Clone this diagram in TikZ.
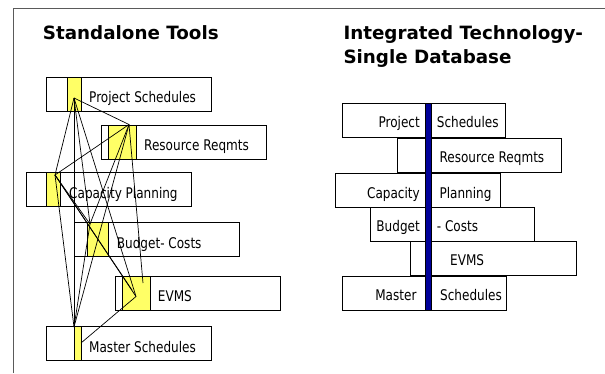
\documentclass[tikz,border=0pt]{standalone}
\usepackage{fontspec}
\newfontfamily\bodyf[FakeStretch=0.82]{DejaVu Sans}
\newfontfamily\titlef{DejaVu Sans}
\definecolor{yellowfill}{RGB}{255,255,102}
\definecolor{navybar}{RGB}{0,0,153}
\definecolor{framec}{RGB}{90,90,90}
\begin{document}
\begin{tikzpicture}[x=1pt,y=-1pt,
  box/.style={draw=black, line width=1pt, fill=white, anchor=north west, inner sep=0pt, outer sep=0pt, minimum height=34pt},
  ylw/.style={draw=black, line width=0.8pt, fill=yellowfill, anchor=north west, inner sep=0pt, outer sep=0pt, minimum height=34pt},
  lbl/.style={anchor=base west, inner sep=0pt, font=\bodyf\fontsize{14.7}{17}\selectfont},
  lblr/.style={anchor=base east, inner sep=0pt, font=\bodyf\fontsize{14.7}{17}\selectfont},
  ttl/.style={anchor=base west, inner sep=0pt, font=\titlef\bfseries\fontsize{18.3}{24}\selectfont},
  wire/.style={line width=0.7pt, black},
  framel/.style={line width=1pt, framec}]
\useasboundingbox (0,0) rectangle (605,373);
\fill[white] (0,0) rectangle (605,373);
% frame
\coordinate (fb) at (13,373);
\coordinate (fc) at (13,8);
\coordinate (fr) at (605,8);
\draw[framel] (fb) -- (fc) -- (fr);
% titles
\node[ttl] (t1) at (42.7,39.3) {Standalone Tools};
\node[ttl] (t2) at (343.3,39.3) {Integrated Technology-};
\node[ttl] (t3) at (343.3,63.3) {Single Database};
% left panel boxes
\node[box, minimum width=165pt] (psbox) at (46.7,77.3) {};
\node[ylw, minimum width=13.7pt] (psy) at (67.3,77.3) {};
\node[lbl] (pst) at (89,102.3) {Project Schedules};
\node[box, minimum width=165pt] (rrbox) at (101.7,125) {};
\node[ylw, minimum width=27.7pt] (rry) at (108.3,125) {};
\node[lbl] (rrt) at (144,150.5) {Resource Reqmts};
\node[box, minimum width=164.3pt] (cpbox) at (26.7,172.7) {};
\node[ylw, minimum width=14pt] (cpy) at (46.7,172.7) {};
\node[lbl] (cpt) at (69,198) {Capacity Planning};
\node[box, minimum width=165.3pt] (bcbox) at (74,222.7) {};
\node[ylw, minimum width=20.6pt] (bcy) at (87.7,222.7) {};
\node[lbl] (bct) at (116.7,248) {Budget- Costs};
\node[box, minimum width=164.3pt] (evbox) at (115.7,276) {};
\node[ylw, minimum width=27.7pt] (evy) at (122.3,276) {};
\node[lbl] (evt) at (157.7,301.5) {EVMS};
\node[box, minimum width=165pt] (msbox) at (46.7,326.7) {};
\node[ylw, minimum width=7pt] (msy) at (74,326.7) {};
\node[lbl] (mst) at (89,352) {Master Schedules};
% hubs
\coordinate (P) at (74,98);
\coordinate (R) at (129,124.5);
\coordinate (C) at (55,175);
\coordinate (B) at (90,224);
\coordinate (E) at (136,296.5);
\coordinate (E2) at (143,283);
\coordinate (E3) at (132,290);
\coordinate (M) at (74,327);
\coordinate (M2) at (81,343);
\draw[wire] (P) -- (R);
\draw[wire] (P) -- (C);
\draw[wire] (P) -- (M);
\draw[wire] (P) -- (B);
\draw[wire] (P) -- (E);
\draw[wire] (R) -- (C);
\draw[wire] (R) -- (B);
\draw[wire] (R) -- (M);
\draw[wire] (R) -- (E2);
\draw[wire] (C) -- (B);
\draw[wire] (C) -- (E);
\draw[wire] (C) -- (E3);
\draw[wire] (C) -- (M);
\draw[wire] (B) -- (M);
\draw[wire] (E) -- (M2);
% right panel
\node[box, minimum width=163.4pt] (rps) at (342.3,103.3) {};
\node[box, minimum width=164.4pt] (rrr) at (397.3,138) {};
\node[box, minimum width=164.3pt] (rcp) at (335.7,173.5) {};
\node[box, minimum width=164pt] (rbc) at (370,207.5) {};
\node[box, minimum width=165.3pt] (rev) at (410.7,241.7) {};
\node[box, minimum width=164.4pt] (rms) at (342.3,276.3) {};
\node[draw=black, line width=0.8pt, fill=navybar, anchor=north west, inner sep=0pt, outer sep=0pt, minimum width=6.7pt, minimum height=207.3pt] (bar) at (425,103.3) {};
\node[lblr] (r1a) at (420,127.3) {Project};
\node[lbl] (r1b) at (436.7,127.3) {Schedules};
\node[lbl] (r2) at (439.3,162.7) {Resource Reqmts};
\node[lblr] (r3a) at (420,198.3) {Capacity};
\node[lbl] (r3b) at (439.3,198.3) {Planning};
\node[lblr] (r4a) at (420,231.7) {Budget};
\node[lbl] (r4b) at (436.7,231.7) {- Costs};
\node[lbl] (r5) at (450,265.7) {EVMS};
\node[lblr] (r6a) at (416.7,300.7) {Master};
\node[lbl] (r6b) at (440,300.7) {Schedules};
\end{tikzpicture}
\end{document}
